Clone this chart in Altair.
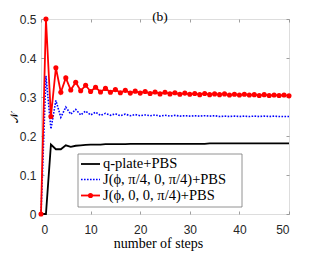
import altair as alt
import pandas as pd

steps = list(range(51))

red_vals = [0.000, 0.500, 0.250, 0.375, 0.312, 0.349, 0.318, 0.338, 0.316, 0.330,
            0.314, 0.325, 0.313, 0.322, 0.312, 0.319, 0.311, 0.317, 0.310, 0.315,
            0.310, 0.314, 0.309, 0.313, 0.308, 0.312, 0.308, 0.311, 0.307, 0.310,
            0.307, 0.309, 0.306, 0.309, 0.306, 0.308, 0.306, 0.308, 0.305, 0.307,
            0.305, 0.307, 0.305, 0.306, 0.304, 0.306, 0.304, 0.305, 0.304, 0.305,
            0.303]

blue_vals = [0.000, 0.354, 0.218, 0.291, 0.248, 0.274, 0.256, 0.268, 0.254, 0.264,
             0.254, 0.261, 0.253, 0.258, 0.253, 0.257, 0.252, 0.256, 0.252, 0.255,
             0.252, 0.254, 0.252, 0.254, 0.251, 0.253, 0.251, 0.253, 0.251, 0.252,
             0.251, 0.252, 0.251, 0.252, 0.251, 0.252, 0.250, 0.251, 0.250, 0.251,
             0.250, 0.251, 0.250, 0.251, 0.250, 0.251, 0.250, 0.251, 0.250, 0.250,
             0.250]

black_vals = [0.000, 0.000, 0.178, 0.166, 0.166, 0.176, 0.172, 0.175, 0.176, 0.177,
              0.178, 0.178, 0.178, 0.179, 0.179, 0.179, 0.179, 0.179, 0.180, 0.180,
              0.180, 0.180, 0.180, 0.180, 0.180, 0.180, 0.180, 0.180, 0.180, 0.180,
              0.180, 0.180, 0.180, 0.180, 0.181, 0.181, 0.181, 0.181, 0.181, 0.181,
              0.181, 0.181, 0.181, 0.181, 0.181, 0.181, 0.181, 0.181, 0.181, 0.181,
              0.181]

series_names = ["q-plate+PBS", "J(\u03d5, \u03c0/4, 0, \u03c0/4)+PBS", "J(\u03d5, 0, 0, \u03c0/4)+PBS"]
series_colors = ["#000000", "#0000ff", "#ff0000"]

x_ticks = [0, 10, 20, 30, 40, 50]
y_ticks = [0, 0.1, 0.2, 0.3, 0.4, 0.5]

W, H = 248, 195
SERIF = "Liberation Serif"
SANS = "Liberation Sans"

df_black = pd.DataFrame({"step": steps, "N": black_vals})
df_blue = pd.DataFrame({"step": steps, "N": blue_vals})
df_red = pd.DataFrame({"step": steps, "N": red_vals})

xs = alt.Scale(domain=[0, 50], nice=False, zero=False)
ys = alt.Scale(domain=[0, 0.5], nice=False)

x_main = alt.X("step:Q", scale=xs, axis=alt.Axis(
    values=x_ticks, title="number of steps", orient="bottom", domain=False,
    grid=False, tickSize=3, offset=-3, tickColor="#888888", tickWidth=0.8,
    labelFont=SANS, labelFontSize=12, labelColor="#262626", labelPadding=10,
    labelOverlap=False,
    titleFont=SERIF, titleFontSize=14, titleFontWeight="normal", titleColor="#000000",
    titlePadding=1, titleX=W / 2 - 7))
y_main = alt.Y("N:Q", scale=ys, axis=alt.Axis(
    values=y_ticks, title="\U0001D4A9", orient="left", domain=False, grid=False,
    tickSize=3, offset=-3, tickColor="#888888", tickWidth=0.8,
    labelFont=SANS, labelFontSize=12, labelColor="#262626", labelPadding=5,
    labelOverlap=False, format=".1~f",
    titleFont="DejaVu Serif", titleFontSize=11, titleFontWeight="normal", titleColor="#000000",
    titlePadding=0))

black_line = alt.Chart(df_black).mark_line(color=series_colors[0], strokeWidth=1.8).encode(x=x_main, y=y_main)
blue_line = alt.Chart(df_blue).mark_line(color=series_colors[1], strokeWidth=1.6, strokeDash=[1.6, 1.4]).encode(
    x=x_main, y=y_main)
red_line = alt.Chart(df_red).mark_line(color=series_colors[2], strokeWidth=1.8).encode(x=x_main, y=y_main)
red_pts = alt.Chart(df_red).mark_point(color=series_colors[2], filled=True, opacity=1, size=26).encode(
    x=x_main, y=y_main)

main = alt.layer(black_line, blue_line, red_line, red_pts)

mirror = alt.Chart(df_black).mark_point(opacity=0).encode(
    x=alt.X("step:Q", scale=xs, axis=alt.Axis(values=x_ticks, orient="top", labels=False, title=None,
                                              domain=False, grid=False, tickSize=3, offset=-3,
                                              tickColor="#888888", tickWidth=0.8)),
    y=alt.Y("N:Q", scale=ys, axis=alt.Axis(values=y_ticks, orient="right", labels=False, title=None,
                                           domain=False, grid=False, tickSize=3, offset=-3,
                                           tickColor="#888888", tickWidth=0.8)))

# legend (decoration)
LX0, LX1, LY0, LY1 = 37, 201, 135, 188
rows_y = [145, 160.5, 176.5]
one = pd.DataFrame({"a": [0]})
legend_box = alt.Chart(one).mark_rect(fill="white", stroke="#777777", strokeWidth=0.8).encode(
    x=alt.value(LX0), x2=alt.value(LX1), y=alt.value(LY0), y2=alt.value(LY1))
leg_layers = [legend_box]
for i, (name, col) in enumerate(zip(series_names, series_colors)):
    kw = dict(color=col, strokeWidth=1.8)
    if i == 1:
        kw = dict(color=col, strokeWidth=1.6, strokeDash=[1.6, 1.4])
    leg_layers.append(alt.Chart(one).mark_rule(**kw).encode(
        x=alt.value(40), x2=alt.value(59), y=alt.value(rows_y[i])))
    if i == 2:
        leg_layers.append(alt.Chart(one).mark_point(color=col, filled=True, opacity=1, size=26).encode(
            x=alt.value(49.5), y=alt.value(rows_y[i])))
    leg_layers.append(alt.Chart(pd.DataFrame({"label": [name]})).mark_text(
        align="left", baseline="middle", font=SERIF, fontSize=14.5, color="#000000").encode(
        x=alt.value(62), y=alt.value(rows_y[i]), text="label:N"))

chart = alt.layer(main, mirror, *leg_layers).resolve_axis(x="independent", y="independent").properties(
    width=W, height=H,
    title=alt.TitleParams("(b)", font=SERIF, fontSize=13.5, fontWeight="normal", color="#000000",
                          offset=-10, dx=-5),
    autosize=alt.AutoSizeParams(type="none"),
    padding={"left": 33, "top": 11, "right": 20, "bottom": 40},
).configure_view(stroke="#888888", strokeWidth=0.8).configure(background="white")

chart.save("out.html", embed_options={"renderer": "svg", "actions": False})
